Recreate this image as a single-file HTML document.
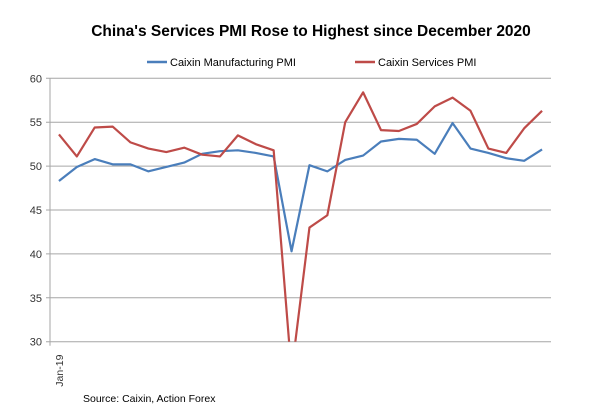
<!DOCTYPE html>
<html><head><meta charset="utf-8"><style>
body{margin:0;background:#fff;font-family:"Liberation Sans",Arial,sans-serif}
svg text{font-family:"Liberation Sans",Arial,sans-serif}
</style></head><body>
<svg id="chart" width="600" height="415" xmlns="http://www.w3.org/2000/svg">
<text x="311" y="36" text-anchor="middle" font-size="15.5" font-weight="bold" fill="#000">China's Services PMI Rose to Highest since December 2020</text>
<g>
<g><line x1="147" y1="62" x2="167" y2="62" stroke="#4a7ebb" stroke-width="2.5"/><text x="170" y="66" font-size="11" fill="#000">Caixin Manufacturing PMI</text></g>
<g><line x1="355" y1="62" x2="375" y2="62" stroke="#be4b48" stroke-width="2.5"/><text x="378" y="66" font-size="11" fill="#000">Caixin Services PMI</text></g>
</g>
<g id="grid"></g><g id="axes"></g><g id="series"></g>
<text x="83" y="402" font-size="10.5" fill="#000">Source: Caixin, Action Forex</text>
</svg>
<script>
const categories=["Jan-19","Feb-19","Mar-19","Apr-19","May-19","Jun-19","Jul-19","Aug-19","Sep-19","Oct-19","Nov-19","Dec-19","Jan-20","Feb-20","Mar-20","Apr-20","May-20","Jun-20","Jul-20","Aug-20","Sep-20","Oct-20","Nov-20","Dec-20","Jan-21","Feb-21","Mar-21","Apr-21"];
const manufacturing=[48.3,49.9,50.8,50.2,50.2,49.4,49.9,50.4,51.4,51.7,51.8,51.5,51.1,40.3,50.1,49.4,50.7,51.2,52.8,53.1,53.0,51.4,54.9,52.0,51.5,50.9,50.6,51.9];
const services=[53.6,51.1,54.4,54.5,52.7,52.0,51.6,52.1,51.3,51.1,53.5,52.5,51.8,26.5,43.0,44.4,55.0,58.4,54.1,54.0,54.8,56.8,57.8,56.3,52.0,51.5,54.3,56.3];
const yTicks=[30,35,40,45,50,55,60];
const NS="http://www.w3.org/2000/svg";
const L=50,R=551,T=78.3,B=341.7,ymin=30,ymax=60;
const x=i=>L+(i+0.5)*(R-L)/categories.length;
const y=v=>B-(v-ymin)/(ymax-ymin)*(B-T);
function mk(tag,attrs,parent){const e=document.createElementNS(NS,tag);for(const k in attrs)e.setAttribute(k,attrs[k]);document.getElementById(parent).appendChild(e);return e;}
yTicks.forEach(t=>{
 const g=mk('line',{x1:L-4,x2:R,y1:y(t),y2:y(t),stroke:'#a6a6a6','stroke-width':1},'grid');
 
 
 const tx=mk('text',{x:L-8,y:y(t)+4,'text-anchor':'end','font-size':11,fill:'#333'},'axes');
 tx.textContent=t;
 
 
});
const ax=mk('line',{x1:L,x2:L,y1:T,y2:B+4,stroke:'#a6a6a6','stroke-width':1},'axes');


const xl=mk('text',{transform:`translate(${x(0)+4},${B+45}) rotate(-90)`,'font-size':10.5,fill:'#333'},'axes');
xl.textContent=categories[0];


mk('clipPath',{id:'pc'},'series').appendChild(Object.assign(document.createElementNS(NS,'rect'),{}));
const cr=document.querySelector('#pc rect');cr.setAttribute('x',L);cr.setAttribute('y',T-5);cr.setAttribute('width',R-L);cr.setAttribute('height',B-T+5);
function line(data,color,name){
 const p=mk('polyline',{points:data.map((v,i)=>x(i)+','+y(v)).join(' '),fill:'none',stroke:color,'stroke-width':2.2,'stroke-linejoin':'round','clip-path':'url(#pc)'},'series');
 
 
}
line(manufacturing,'#4a7ebb','manufacturing-line');
line(services,'#be4b48','services-line');
</script>
</body></html>
